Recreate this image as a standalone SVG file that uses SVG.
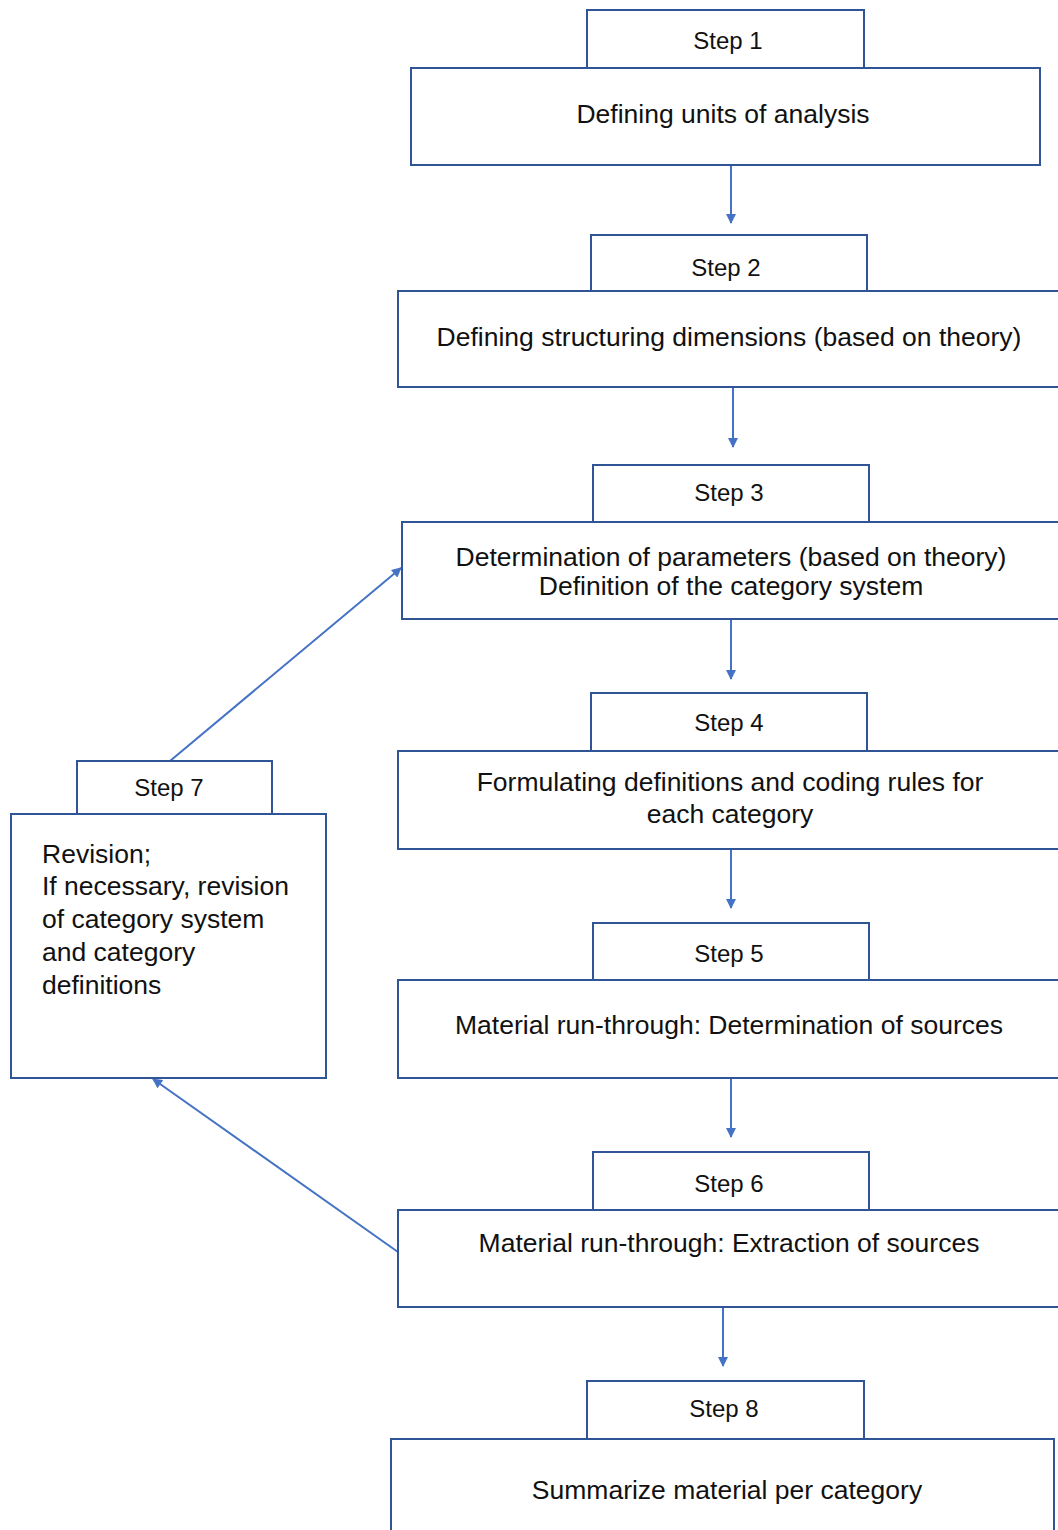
<svg xmlns="http://www.w3.org/2000/svg" width="1058" height="1530" viewBox="0 0 1058 1530">
<style>
.box{fill:#fff;stroke:#2F5597;stroke-width:2}
.s{font-family:"Liberation Sans",Arial,sans-serif;font-size:24px;fill:#111;text-anchor:middle}
.t{font-family:"Liberation Sans",Arial,sans-serif;font-size:26.5px;fill:#111;text-anchor:middle}
.tl{font-family:"Liberation Sans",Arial,sans-serif;font-size:26.5px;fill:#111}
.c{stroke:#4472C4;stroke-width:2;fill:none;marker-end:url(#ah)}
</style>
<defs>
<marker id="ah" viewBox="0 0 10 10" refX="9" refY="5" markerWidth="11" markerHeight="10" orient="auto" markerUnits="userSpaceOnUse"><path d="M0,0 L10,5 L0,10 z" fill="#4472C4"/></marker>
</defs>
<rect width="1058" height="1530" fill="#fff"/>
<g id="connectors">
<line class="c" x1="731" y1="166" x2="731" y2="223"/>
<line class="c" x1="733" y1="388" x2="733" y2="447"/>
<line class="c" x1="731" y1="620" x2="731" y2="679"/>
<line class="c" x1="731" y1="850" x2="731" y2="908"/>
<line class="c" x1="731" y1="1079" x2="731" y2="1137"/>
<line class="c" x1="723" y1="1308" x2="723" y2="1366"/>
<line class="c" x1="170" y1="761" x2="401" y2="568"/>
<line class="c" x1="398" y1="1252" x2="153" y2="1079"/>
</g>
<g id="step1">
<rect class="box" x="587" y="10" width="277" height="58"/>
<rect class="box" x="411" y="68" width="629" height="97"/>
<text class="s" x="728" y="49">Step 1</text>
<text class="t" x="723" y="123">Defining units of analysis</text>
</g>
<g id="step2">
<rect class="box" x="591" y="235" width="276" height="56"/>
<rect class="box" x="398" y="291" width="670" height="96"/>
<text class="s" x="726" y="276">Step 2</text>
<text class="t" x="729" y="346">Defining structuring dimensions (based on theory)</text>
</g>
<g id="step3">
<rect class="box" x="593" y="465" width="276" height="57"/>
<rect class="box" x="402" y="522" width="666" height="97"/>
<text class="s" x="729" y="501">Step 3</text>
<text class="t" x="731" y="566">Determination of parameters (based on theory)</text>
<text class="t" x="731" y="595">Definition of the category system</text>
</g>
<g id="step4">
<rect class="box" x="591" y="693" width="276" height="58"/>
<rect class="box" x="398" y="751" width="670" height="98"/>
<text class="s" x="729" y="731">Step 4</text>
<text class="t" x="730" y="791">Formulating definitions and coding rules for</text>
<text class="t" x="730" y="823">each category</text>
</g>
<g id="step5">
<rect class="box" x="593" y="923" width="276" height="57"/>
<rect class="box" x="398" y="980" width="670" height="98"/>
<text class="s" x="729" y="962">Step 5</text>
<text class="t" x="729" y="1034">Material run-through: Determination of sources</text>
</g>
<g id="step6">
<rect class="box" x="593" y="1152" width="276" height="58"/>
<rect class="box" x="398" y="1210" width="670" height="97"/>
<text class="s" x="729" y="1192">Step 6</text>
<text class="t" x="729" y="1252">Material run-through: Extraction of sources</text>
</g>
<g id="step7">
<rect class="box" x="77" y="761" width="195" height="53"/>
<rect class="box" x="11" y="814" width="315" height="264"/>
<text class="s" x="169" y="796">Step 7</text>
<text class="tl" x="42" y="863">Revision;</text>
<text class="tl" x="42" y="895">If necessary, revision</text>
<text class="tl" x="42" y="928">of category system</text>
<text class="tl" x="42" y="961">and category</text>
<text class="tl" x="42" y="994">definitions</text>
</g>
<g id="step8">
<rect class="box" x="587" y="1381" width="277" height="58"/>
<rect class="box" x="391" y="1439" width="663" height="110"/>
<text class="s" x="724" y="1417">Step 8</text>
<text class="t" x="727" y="1499">Summarize material per category</text>
</g>
</svg>
